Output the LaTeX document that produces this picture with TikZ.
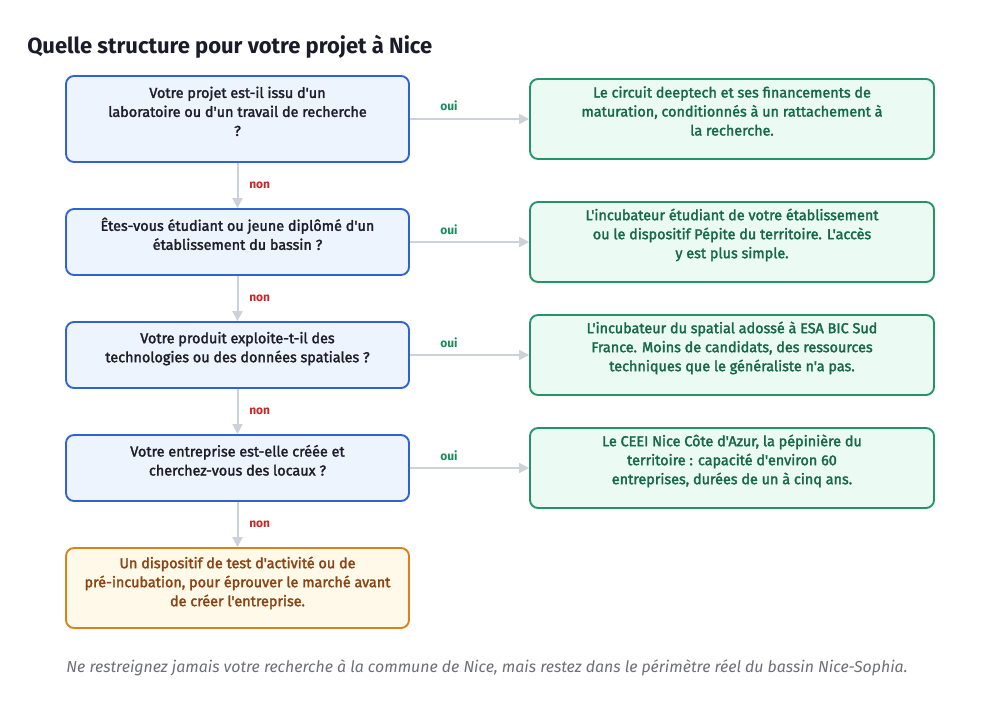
\documentclass[tikz,border=0pt]{standalone}
\usepackage{fontspec}
\setmainfont{Fira Sans}[Ligatures=TeXOff]
\newcommand\heavier[1]{\special{pdf:literal direct 2 Tr 0.22 w}#1\special{pdf:literal direct 0 Tr 0.4 w}}
\usetikzlibrary{arrows.meta}
\definecolor{qborder}{HTML}{3063D2}
\definecolor{qfill}{HTML}{EEF4FE}
\definecolor{qtext}{HTML}{1E1E2A}
\definecolor{gborder}{HTML}{23936A}
\definecolor{gfill}{HTML}{EBFBF3}
\definecolor{gtext}{HTML}{17684A}
\definecolor{oborder}{HTML}{D9811F}
\definecolor{ofill}{HTML}{FFF9E9}
\definecolor{otext}{HTML}{8A4414}
\definecolor{arr}{HTML}{CDD1D8}
\definecolor{nonc}{HTML}{C62828}
\definecolor{ouic}{HTML}{1C8C5E}
\definecolor{titlec}{HTML}{1B1B29}
\definecolor{footc}{HTML}{6E6E78}
\begin{document}
\begin{tikzpicture}[x=0.75pt,y=-0.75pt,
  basebox/.style={rounded corners=6pt, line width=1.4pt, inner sep=0pt},
  qbox/.style={basebox, draw=qborder, fill=qfill, minimum width=257.25pt},
  gbox/.style={basebox, draw=gborder, fill=gfill, minimum width=303pt, minimum height=60pt},
  obox/.style={basebox, draw=oborder, fill=ofill, minimum width=257.25pt, minimum height=60pt},
  btext/.style={anchor=north, align=center, inner sep=0pt, font=\fontsize{10.8}{14.25}\selectfont},
  flow/.style={draw=arr, line width=1.5pt, -{Triangle[length=7.5pt,width=7.5pt]}},
  nonlab/.style={text=nonc, font=\bfseries\fontsize{9}{10}\selectfont, anchor=west, inner sep=0pt},
  ouilab/.style={text=ouic, font=\bfseries\fontsize{9}{10}\selectfont, inner sep=0pt}
]
\useasboundingbox (0,0) rectangle (1000,727);
\fill[white] (0,0) rectangle (1000,727);

\node[anchor=west, inner sep=0pt, text=titlec, font=\bfseries\fontsize{16.5}{19}\selectfont] (title) at (27,47) {Quelle structure pour votre projet à Nice};

% question boxes
\node[qbox, minimum height=64.5pt] (q1) at (237.5,119) {};
\node[qbox, minimum height=49.5pt] (q2) at (237.5,242) {};
\node[qbox, minimum height=49.5pt] (q3) at (237.5,355) {};
\node[qbox, minimum height=49.5pt] (q4) at (237.5,468) {};
\node[obox] (q5) at (237.5,588) {};

% result boxes
\node[gbox] (r1) at (732,119) {};
\node[gbox] (r2) at (732,242) {};
\node[gbox] (r3) at (732,355) {};
\node[gbox] (r4) at (732,468) {};

% texts
\node[btext, text=qtext] (q1t) at ([yshift=-8.5pt]q1.north) {\heavier{Votre projet est-il issu d'un}\\\heavier{laboratoire ou d'un travail de recherche}\\\heavier{?}};
\node[btext, text=qtext] (q2t) at ([yshift=-7pt]q2.north) {\heavier{Êtes-vous étudiant ou jeune diplômé d'un}\\\heavier{établissement du bassin ?}};
\node[btext, text=qtext] (q3t) at ([yshift=-8pt]q3.north) {\heavier{Votre produit exploite-t-il des}\\\heavier{technologies ou des données spatiales ?}};
\node[btext, text=qtext] (q4t) at ([yshift=-8pt]q4.north) {\heavier{Votre entreprise est-elle créée et}\\\heavier{cherchez-vous des locaux ?}};
\node[btext, text=otext] (q5t) at ([yshift=-7pt]q5.north) {\heavier{Un dispositif de test d'activité ou de}\\\heavier{pré-incubation, pour éprouver le marché avant}\\\heavier{de créer l'entreprise.}};

\node[btext, text=gtext] (r1t) at ([yshift=-6pt]r1.north) {\heavier{Le circuit deeptech et ses financements de}\\\heavier{maturation, conditionnés à un rattachement à}\\\heavier{la recherche.}};
\node[btext, text=gtext] (r2t) at ([yshift=-5.5pt]r2.north) {\heavier{L'incubateur étudiant de votre établissement}\\\heavier{ou le dispositif Pépite du territoire. L'accès}\\\heavier{y est plus simple.}};
\node[btext, text=gtext] (r3t) at ([yshift=-5.5pt]r3.north) {\heavier{L'incubateur du spatial adossé à ESA BIC Sud}\\\heavier{France. Moins de candidats, des ressources}\\\heavier{techniques que le généraliste n'a pas.}};
\node[btext, text=gtext] (r4t) at ([yshift=-5.5pt]r4.north) {\heavier{Le CEEI Nice Côte d'Azur, la pépinière du}\\\heavier{territoire : capacité d'environ 60}\\\heavier{entreprises, durées de un à cinq ans.}};

% down arrows
\draw[flow] (q1.south) -- (q2.north);
\draw[flow] (q2.south) -- (q3.north);
\draw[flow] (q3.south) -- (q4.north);
\draw[flow] (q4.south) -- (q5.north);
\node[nonlab] (n1) at (249,185.5) {non};
\node[nonlab] (n2) at (249,298.5) {non};
\node[nonlab] (n3) at (249,411.5) {non};
\node[nonlab] (n4) at (249,524.5) {non};

% right arrows
\draw[flow] (q1.east) -- (r1.west);
\draw[flow] (q2.east) -- (r2.west);
\draw[flow] (q3.east) -- (r3.west);
\draw[flow] (q4.east) -- (r4.west);
\node[ouilab] (o1) at (449,106) {oui};
\node[ouilab] (o2) at (449,230) {oui};
\node[ouilab] (o3) at (449,343) {oui};
\node[ouilab] (o4) at (449,456) {oui};

\node[inner sep=0pt, text=footc, font=\itshape\fontsize{11.9}{13}\selectfont] (foot) at (487,668) {Ne restreignez jamais votre recherche à la commune de Nice, mais restez dans le périmètre réel du bassin Nice-Sophia.};
\end{tikzpicture}
\end{document}
